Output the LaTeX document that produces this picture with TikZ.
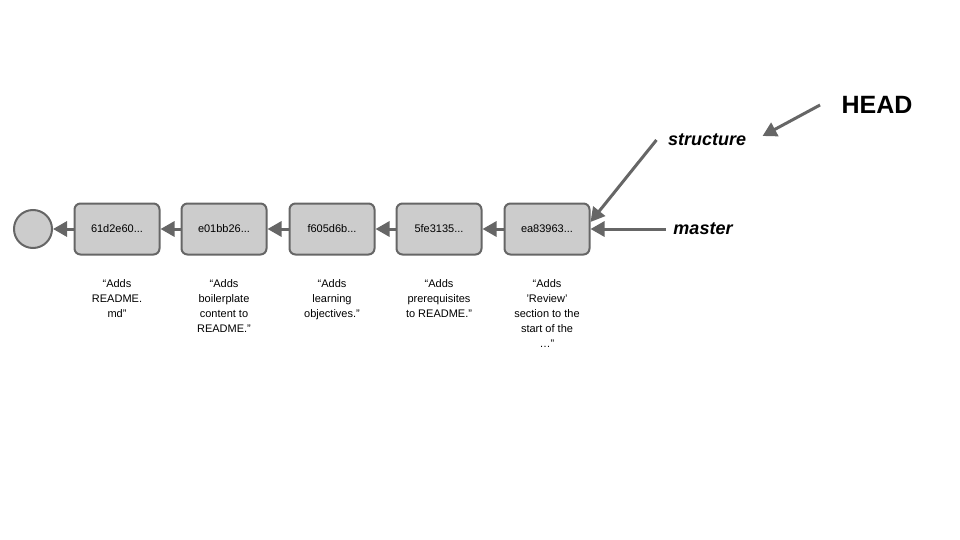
\documentclass[tikz,border=0pt]{standalone}
\usepackage{fontspec}
\setmainfont{Liberation Sans}
\usetikzlibrary{arrows.meta}
\definecolor{linegray}{HTML}{666666}
\definecolor{boxgray}{HTML}{CCCCCC}
\newcommand{\sq}{\symbol{"27}}
\newcommand{\dq}{\symbol{"22}}

\begin{document}
\begin{tikzpicture}[x=1pt,y=-1pt,
  commit/.style={draw=linegray,fill=boxgray,line width=2pt,rounded corners=6pt,
    minimum width=85pt,minimum height=51pt,font=\fontsize{11}{13}\selectfont},
  link/.style={draw=linegray,line width=3pt,-{Triangle[length=14pt,width=15pt]}},
  msg/.style={align=center,anchor=north,font=\fontsize{11}{15}\selectfont},
  ref/.style={font=\fontsize{18}{20}\selectfont\bfseries\itshape}]
\useasboundingbox (0,0) rectangle (960,540);

\begin{scope} % commit chain
  \node (root) at (33,229) [circle,draw=linegray,fill=boxgray,line width=2pt,
    minimum size=38pt,inner sep=0pt] {};
  \foreach \x/\hash [count=\i] in {117/61d2e60,224/e01bb26,332/f605d6b,
      439/5fe3135,547/ea83963} {
    \node (c\i) at (\x,229) [commit] {\hash...};
  }
  \foreach \a/\b in {c1/root,c2/c1,c3/c2,c4/c3,c5/c4}
    \draw[link] (\a) -- (\b);
\end{scope}

\begin{scope} % commit messages
  \node (m1) at (117,276) [msg] {“Adds\\README.\\md\dq};
  \node (m2) at (224,276) [msg] {“Adds\\boilerplate\\content to\\README.\dq};
  \node (m3) at (332,276) [msg] {“Adds\\learning\\objectives.\dq};
  \node (m4) at (439,276) [msg] {“Adds\\prerequisites\\to README.\dq};
  \node (m5) at (547,276) [msg] {“Adds\\\sq Review\sq\\section to the\\start of the\\…\dq};
\end{scope}

\begin{scope} % branch pointers
  \node (head) at (877,105) [font=\fontsize{25}{28}\selectfont\bfseries] {HEAD};
  \node (structure) at (707,140) [ref] {structure};
  \node (master) at (703,229) [ref] {master};
  \draw[link] ([xshift=-18pt]head.west) -- ([xshift=13pt,yshift=4pt]structure.east);
  \draw[link] ([xshift=-8pt]structure.west) -- ([yshift=7pt]c5.east);
  \draw[link] ([xshift=-4pt]master.west) -- (c5.east);
\end{scope}

\end{tikzpicture}
\end{document}
